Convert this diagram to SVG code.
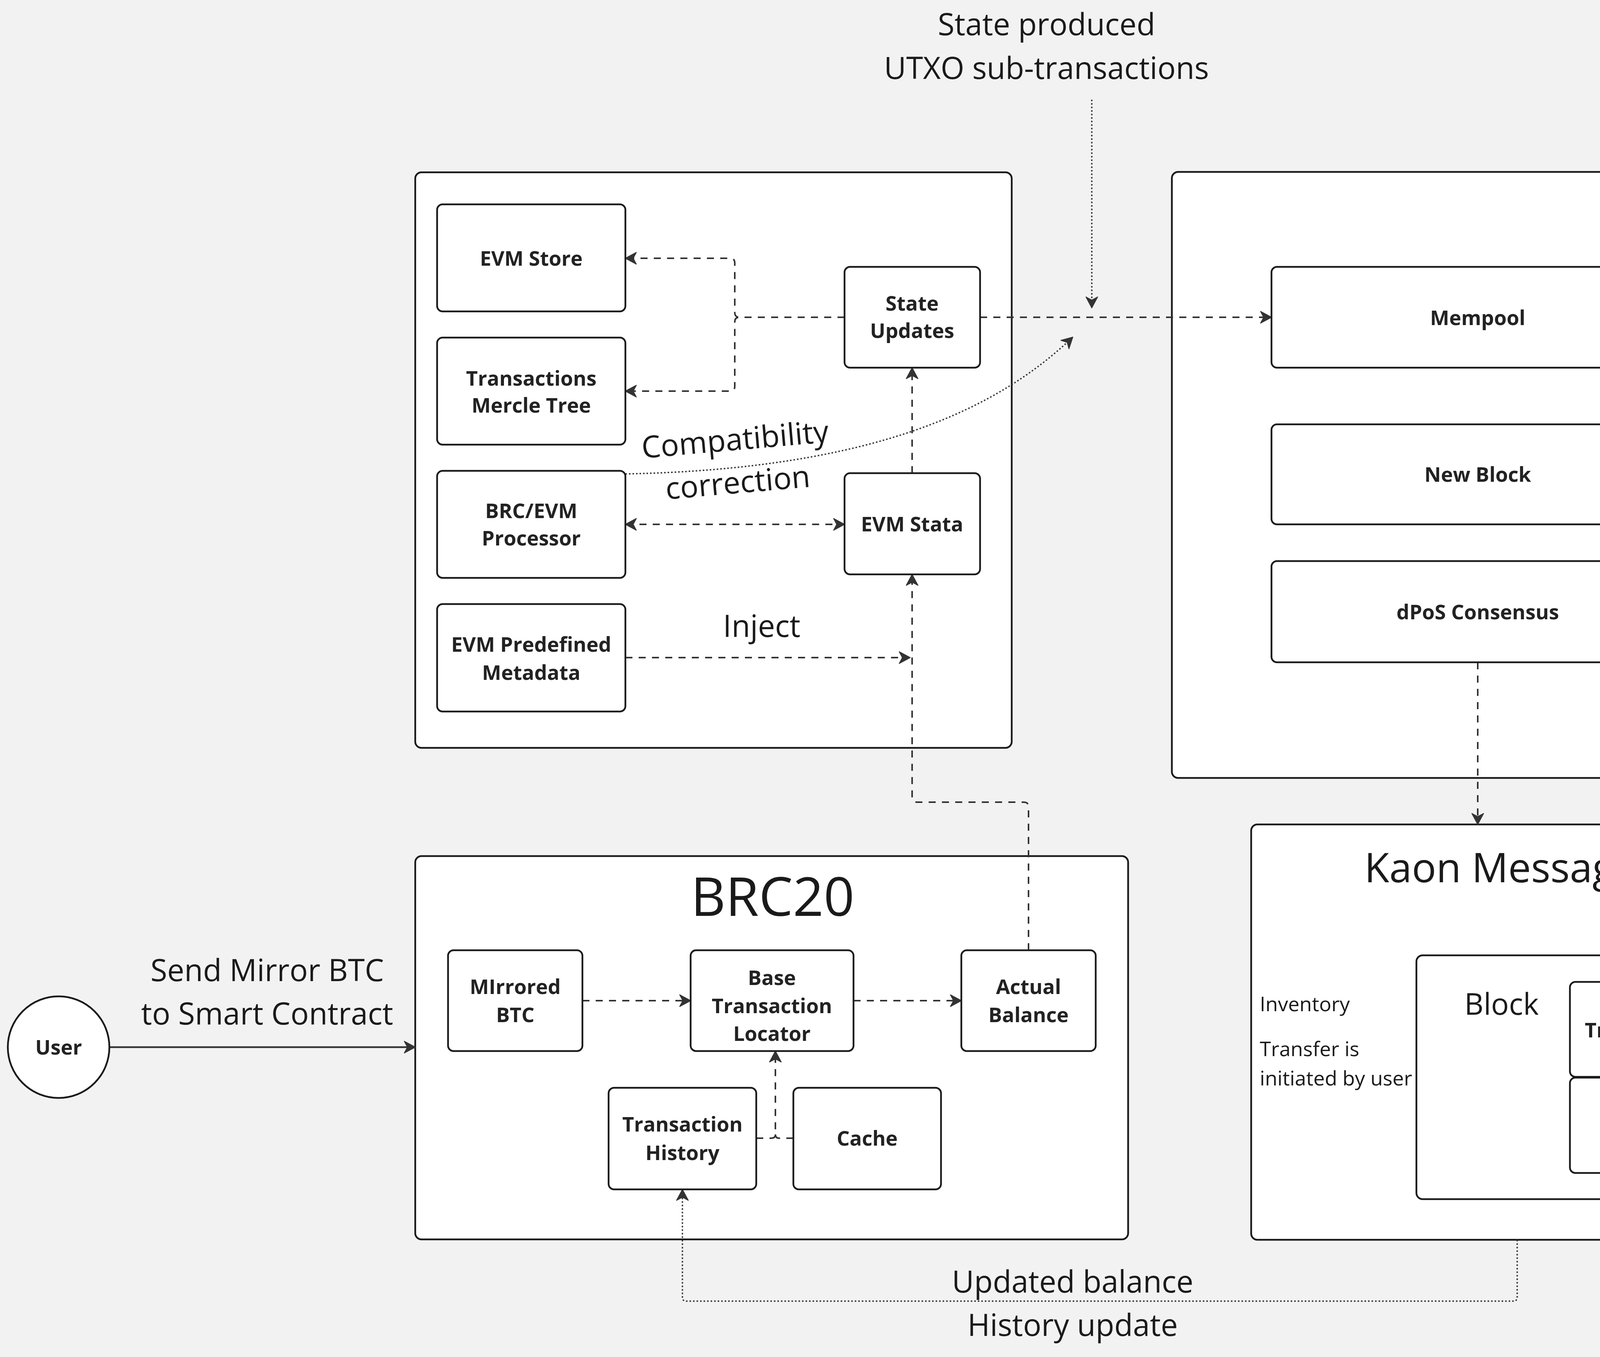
<svg xmlns="http://www.w3.org/2000/svg" width="4606" height="3473" viewBox="0 0 4606 3473">
<defs>
<style>
.bg{fill:#f2f2f2}
.box{fill:#ffffff;stroke:#1a1a1a;stroke-width:4.5}
.nt{font-family:"Open Sans","Noto Sans",sans-serif;font-weight:700;font-size:52px;fill:#222222;text-anchor:middle}
.lbl{font-family:"Open Sans","Noto Sans",sans-serif;font-weight:400;font-size:78px;fill:#1a1a1a;text-anchor:middle}
.small{font-family:"Open Sans","Noto Sans",sans-serif;font-weight:400;font-size:52px;fill:#1a1a1a}
.title{font-family:"Open Sans","Noto Sans",sans-serif;font-weight:400;fill:#1a1a1a;text-anchor:middle}
.dash{fill:none;stroke:#333333;stroke-width:4;stroke-dasharray:18 16}
.dot{fill:none;stroke:#333333;stroke-width:3.5;stroke-dasharray:4 5}
.solid{fill:none;stroke:#333333;stroke-width:4.5}
</style>
<marker id="ah" viewBox="-30 -17 34 34" refX="0" refY="0" markerWidth="34" markerHeight="34" markerUnits="userSpaceOnUse" orient="auto-start-reverse">
<path d="M2,0 L-26,-15 L-18,0 L-26,15 Z" fill="#333333" stroke="#333333" stroke-width="2" stroke-linejoin="round"/>
</marker>
</defs>
<rect class="bg" x="0" y="0" width="4606" height="3473"/>

<!-- containers -->
<g id="evm-container"><rect class="box" x="1063" y="441" width="1527" height="1473" rx="16"/></g>
<g id="chain-container"><rect class="box" x="3000" y="440" width="1569" height="1551" rx="16"/></g>
<g id="brc20-container"><rect class="box" x="1063" y="2191" width="1825" height="981" rx="16"/>
<text class="title" x="1978" y="2344" font-size="138">BRC20</text></g>
<g id="kaon-message"><rect class="box" x="3203" y="2110" width="1367" height="1063" rx="16"/>
<text class="title" x="3842" y="2258" font-size="104">Kaon Message</text>
<text class="small" x="3225" y="2588">Inventory</text>
<text class="small" x="3225" y="2703">Transfer is</text>
<text class="small" x="3225" y="2778">initiated by user</text></g>
<g id="block-container"><rect class="box" x="3626" y="2445" width="844" height="624" rx="16"/>
<text class="title" x="3844" y="2597" font-size="76">Block</text></g>

<!-- connectors -->
<g id="connectors">
<path class="dash" d="M2162,812 H1893 Q1881,812 1881,800 V673 Q1881,661 1869,661 H1603" marker-end="url(#ah)"/>
<path class="dash" d="M2162,812 H1893 Q1881,812 1881,824 V989 Q1881,1001 1869,1001 H1603" marker-end="url(#ah)"/>
<path class="dash" d="M2335,1211 V943" marker-end="url(#ah)"/>
<path class="dash" d="M1603,1342 H2160" marker-start="url(#ah)" marker-end="url(#ah)"/>
<path class="dash" d="M1601,1683 H2328" marker-end="url(#ah)"/>
<path class="dash" d="M2633,2432 V2065 Q2633,2053 2621,2053 H2347 Q2335,2053 2335,2041 V1472" marker-end="url(#ah)"/>
<path class="dash" d="M2509,812 H3253" marker-end="url(#ah)"/>
<path class="dot" d="M2795,255 V786" marker-end="url(#ah)"/>
<path class="dot" d="M1601,1213 C2250,1200 2560,1040 2745,864" marker-end="url(#ah)"/>
<path class="dash" d="M3783,1695 V2108" marker-end="url(#ah)"/>
<path class="solid" d="M281,2680 H1061" marker-end="url(#ah)"/>
<path class="dash" d="M1491,2561 H1766" marker-end="url(#ah)"/>
<path class="dash" d="M2185,2561 H2459" marker-end="url(#ah)"/>
<path class="dash" d="M1936,2913 H1975 Q1985,2913 1985,2903 V2692" marker-end="url(#ah)"/>
<path class="dash" d="M2031,2913 H1995 Q1985,2913 1985,2903"/>
<path class="dot" d="M3884,3173 V3320 Q3884,3330 3874,3330 H1757 Q1747,3330 1747,3320 V3046" marker-end="url(#ah)"/>
</g>

<!-- edge labels -->
<g id="labels">
<text class="lbl" x="2679" y="90">State produced</text>
<text class="lbl" x="2679" y="202">UTXO sub-transactions</text>
<text class="lbl" transform="translate(1884,1152) rotate(-5)" x="0" y="0">Compatibility</text>
<text class="lbl" transform="translate(1891,1262) rotate(-5)" x="0" y="0">correction</text>
<text class="lbl" x="1950" y="1630">Inject</text>
<text class="lbl" x="684" y="2511">Send Mirror BTC</text>
<text class="lbl" x="684" y="2622">to Smart Contract</text>
<text class="lbl" x="2746" y="3308">Updated balance</text>
<text class="lbl" x="2746" y="3419">History update</text>
</g>

<!-- nodes -->
<g id="evm-store"><rect class="box" x="1119" y="523" width="482" height="274" rx="14"/><text class="nt" x="1360" y="680">EVM Store</text></g>
<g id="mercle-tree"><rect class="box" x="1119" y="864" width="482" height="274" rx="14"/><text class="nt" x="1360" y="987">Transactions</text><text class="nt" x="1360" y="1056">Mercle Tree</text></g>
<g id="brc-evm-processor"><rect class="box" x="1119" y="1205" width="482" height="274" rx="14"/><text class="nt" x="1360" y="1326">BRC/EVM</text><text class="nt" x="1360" y="1396">Processor</text></g>
<g id="evm-metadata"><rect class="box" x="1119" y="1546" width="482" height="275" rx="14"/><text class="nt" x="1360" y="1668">EVM Predefined</text><text class="nt" x="1360" y="1740">Metadata</text></g>
<g id="state-updates"><rect class="box" x="2162" y="683" width="347" height="258" rx="14"/><text class="nt" x="2335" y="795">State</text><text class="nt" x="2335" y="865">Updates</text></g>
<g id="evm-stata"><rect class="box" x="2162" y="1211" width="347" height="259" rx="14"/><text class="nt" x="2335" y="1360">EVM Stata</text></g>
<g id="mempool"><rect class="box" x="3255" y="683" width="1057" height="258" rx="14"/><text class="nt" x="3783" y="832">Mempool</text></g>
<g id="new-block"><rect class="box" x="3255" y="1086" width="1057" height="256" rx="14"/><text class="nt" x="3783" y="1233">New Block</text></g>
<g id="dpos"><rect class="box" x="3255" y="1436" width="1057" height="259" rx="14"/><text class="nt" x="3783" y="1585">dPoS Consensus</text></g>
<g id="transaction"><rect class="box" x="4019" y="2513" width="384" height="243" rx="14"/><text class="nt" x="4211" y="2655">Transaction</text></g>
<g id="kaon-transfer"><rect class="box" x="4019" y="2758" width="384" height="244" rx="14"/><text class="nt" x="4211" y="2864">Kaon</text><text class="nt" x="4211" y="2936">Transfer</text></g>
<g id="mirrored-btc"><rect class="box" x="1147" y="2432" width="344" height="258" rx="14"/><text class="nt" x="1319" y="2544">MIrrored</text><text class="nt" x="1319" y="2616">BTC</text></g>
<g id="base-locator"><rect class="box" x="1768" y="2432" width="417" height="258" rx="14"/><text class="nt" x="1976" y="2521">Base</text><text class="nt" x="1976" y="2593">Transaction</text><text class="nt" x="1976" y="2664">Locator</text></g>
<g id="actual-balance"><rect class="box" x="2461" y="2432" width="344" height="258" rx="14"/><text class="nt" x="2633" y="2544">Actual</text><text class="nt" x="2633" y="2616">Balance</text></g>
<g id="tx-history"><rect class="box" x="1558" y="2784" width="378" height="260" rx="14"/><text class="nt" x="1747" y="2896">Transaction</text><text class="nt" x="1747" y="2969">History</text></g>
<g id="cache"><rect class="box" x="2031" y="2784" width="378" height="260" rx="14"/><text class="nt" x="2220" y="2932">Cache</text></g>
<g id="user"><circle class="box" cx="150" cy="2680" r="130"/><text class="nt" x="150" y="2699">User</text></g>
</svg>
